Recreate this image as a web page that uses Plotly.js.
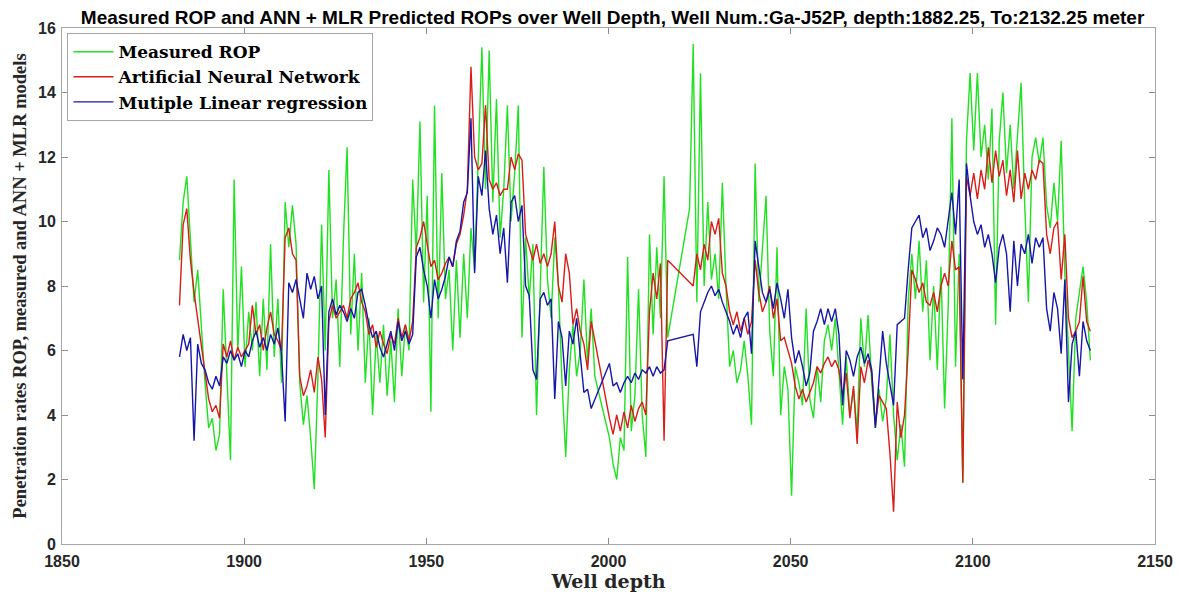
<!DOCTYPE html>
<html>
<head>
<meta charset="utf-8">
<script src="https://cdn.plot.ly/plotly-3.0.1.min.js"></script>
<style>
html,body{margin:0;padding:0;background:#fff;}
#chart{width:1178px;height:594px;}
</style>
</head>
<body>
<div id="chart"></div>
<script>
// Well depth (m)
const depth = [
1882.25,1883.25,1884.25,1885.25,1886.25,1887.25,1888.25,1889.25,1890.25,1891.25,
1892.25,1893.25,1894.25,1895.25,1896.25,1897.25,1898.25,1899.25,1900.25,1901.25,
1902.25,1903.25,1904.25,1905.25,1906.25,1907.25,1908.25,1909.25,1910.25,1911.25,
1912.25,1913.25,1914.25,1915.25,1916.25,1917.25,1918.25,1919.25,1920.25,1921.25,
1922.25,1923.25,1924.25,1925.25,1926.25,1927.25,1928.25,1929.25,1930.25,1931.25,
1932.25,1933.25,1934.25,1935.25,1936.25,1937.25,1938.25,1939.25,1940.25,1941.25,
1942.25,1943.25,1944.25,1945.25,1946.25,1947.25,1948.25,1949.25,1950.25,1951.25,
1952.25,1953.25,1954.25,1955.25,1956.25,1957.25,1958.25,1959.25,1960.25,1961.25,
1962.25,1963.25,1964.25,1965.25,1966.25,1967.25,1968.25,1969.25,1970.25,1971.25,
1972.25,1973.25,1974.25,1975.25,1976.25,1977.25,1978.25,1979.25,1980.25,1981.25,
1982.25,1983.25,1984.25,1985.25,1986.25,1987.25,1988.25,1989.25,1990.25,1991.25,
1992.25,1993.25,1994.25,1995.25,1996.25,1997.25,1998.25,1999.25,2000.25,2001.25,
2002.25,2003.25,2004.25,2005.25,2006.25,2007.25,2008.25,2009.25,2010.25,2011.25,
2012.25,2013.25,2014.25,2015.25,2016.25,2017.25,2018.25,2019.25,2020.25,2021.25,
2022.25,2023.25,2024.25,2025.25,2026.25,2027.25,2028.25,2029.25,2030.25,2031.25,
2032.25,2033.25,2034.25,2035.25,2036.25,2037.25,2038.25,2039.25,2040.25,2041.25,
2042.25,2043.25,2044.25,2045.25,2046.25,2047.25,2048.25,2049.25,2050.25,2051.25,
2052.25,2053.25,2054.25,2055.25,2056.25,2057.25,2058.25,2059.25,2060.25,2061.25,
2062.25,2063.25,2064.25,2065.25,2066.25,2067.25,2068.25,2069.25,2070.25,2071.25,
2072.25,2073.25,2074.25,2075.25,2076.25,2077.25,2078.25,2079.25,2080.25,2081.25,
2082.25,2083.25,2084.25,2085.25,2086.25,2087.25,2088.25,2089.25,2090.25,2091.25,
2092.25,2093.25,2094.25,2095.25,2096.25,2097.25,2098.25,2099.25,2100.25,2101.25,
2102.25,2103.25,2104.25,2105.25,2106.25,2107.25,2108.25,2109.25,2110.25,2111.25,
2112.25,2113.25,2114.25,2115.25,2116.25,2117.25,2118.25,2119.25,2120.25,2121.25,
2122.25,2123.25,2124.25,2125.25,2126.25,2127.25,2128.25,2129.25,2130.25,2131.25,
2132.25];

// Measured ROP
const measuredROP = [
8.8,10.6,11.4,9.6,7.5,8.5,6.6,5.0,3.6,3.9,
2.9,3.4,7.9,5.0,2.6,11.3,6.0,8.6,5.5,7.2,
6.0,7.5,5.2,7.6,5.4,9.3,5.8,7.6,5.0,10.6,
9.2,10.5,9.3,5.0,3.7,4.6,3.3,1.7,5.2,9.9,
6.0,11.6,7.0,8.2,5.5,9.5,12.3,6.5,9.0,6.0,
8.4,5.0,7.0,4.0,6.5,5.0,6.8,4.6,6.3,4.4,
7.3,5.2,6.8,6.0,11.3,9.0,13.1,7.5,10.8,4.1,
13.6,7.0,11.5,7.6,8.5,6.0,8.8,6.4,9.0,7.0,
9.8,8.5,12.0,15.4,11.0,15.3,10.6,13.8,9.5,11.0,
13.6,10.0,11.5,13.6,6.4,9.5,7.6,9.3,4.0,8.0,
11.7,8.2,7.0,9.5,8.0,5.0,2.7,5.4,6.8,5.2,
6.0,8.2,5.6,7.3,5.2,null,null,null,3.3,2.5,
2.0,3.3,2.9,8.9,3.5,4.6,7.9,4.0,2.7,9.6,
6.5,9.2,7.0,11.4,6.4,null,null,null,null,null,
10.4,15.5,7.5,14.6,8.0,10.6,8.2,9.0,7.6,11.2,
8.0,5.5,6.0,5.0,5.4,6.3,5.2,3.7,11.8,7.5,
9.0,10.8,6.6,5.2,9.2,4.0,5.5,4.8,1.5,5.5,
5.0,4.3,7.3,4.5,3.9,5.5,4.4,6.3,6.8,6.0,
7.0,5.3,3.7,5.8,4.0,4.8,3.5,7.0,5.5,7.1,
5.0,3.6,4.8,3.8,4.5,6.5,4.0,2.6,3.7,2.4,
7.5,9.0,7.6,9.4,7.2,8.8,5.7,8.0,5.4,8.6,
4.2,7.4,13.2,5.5,9.0,1.9,12.5,14.6,12.2,14.6,
12.0,13.0,11.3,13.5,6.8,12.5,14.0,11.5,13.0,11.0,
12.5,14.3,10.5,7.5,12.0,12.6,11.8,12.6,10.5,9.8,
11.2,10.0,12.5,8.4,6.0,3.5,7.0,7.8,8.6,7.5,
5.7];

// Artificial Neural Network prediction
const annROP = [
7.4,9.9,10.4,8.8,7.8,7.0,6.2,5.4,4.5,4.1,
4.3,3.9,6.2,5.8,6.3,5.7,6.1,5.8,6.0,6.2,
7.4,6.5,6.8,6.0,6.7,7.2,6.5,6.3,6.0,9.5,
9.8,9.0,8.8,5.2,4.6,4.9,5.4,4.7,5.8,5.1,
3.3,6.9,7.4,7.0,7.2,7.4,7.0,7.6,7.8,8.1,
7.5,7.2,6.5,6.8,6.1,6.6,6.2,5.9,6.5,6.2,
7.0,6.4,6.8,6.3,6.9,9.2,9.5,10.0,9.3,8.6,
8.8,8.2,8.4,8.7,8.9,8.6,9.3,9.6,10.2,11.0,
14.8,12.0,11.6,11.8,13.6,11.3,11.0,11.2,10.8,11.0,
11.0,12.0,11.6,12.1,11.9,9.6,9.2,8.8,9.3,8.7,
9.0,8.6,9.0,10.0,8.0,7.5,9.0,8.4,6.8,7.3,
6.6,6.2,5.4,6.9,null,null,null,null,3.9,3.4,
4.0,3.5,4.1,3.6,4.3,3.8,4.2,4.4,4.0,7.2,
8.4,7.6,8.7,3.2,8.8,null,null,null,null,null,
null,8.0,9.0,8.5,9.3,8.8,10.0,9.6,10.1,8.4,
8.0,7.2,6.8,7.2,6.6,7.0,6.5,6.9,8.8,7.8,
7.2,7.5,8.0,7.0,7.6,6.3,6.4,6.0,5.6,4.9,
4.5,4.8,4.4,4.7,5.0,5.5,5.3,5.6,5.8,5.5,
5.7,5.4,4.6,5.3,3.9,4.9,3.1,5.5,5.0,5.7,
5.3,3.7,4.6,4.4,4.2,2.8,1.0,4.4,3.3,4.0,
6.0,8.5,8.2,7.8,8.1,7.5,7.4,7.8,7.2,8.0,
8.4,8.0,9.4,8.5,8.6,1.9,11.4,10.8,11.5,10.7,
11.6,11.0,12.3,11.2,12.2,11.4,11.9,10.8,11.6,10.6,
12.2,10.7,11.5,11.0,11.6,11.3,11.9,11.8,9.6,9.0,
9.8,10.0,8.2,9.6,7.0,6.4,6.6,6.9,8.3,6.9,
6.6];

// Multiple Linear Regression prediction
const mlrROP = [
5.8,6.5,6.0,6.4,3.2,6.2,5.6,5.4,5.0,4.8,
5.2,4.9,5.8,5.6,6.0,5.7,5.9,5.5,6.0,5.8,
6.3,6.6,6.1,6.4,6.0,6.5,6.2,6.7,5.9,3.8,
8.1,7.8,8.2,7.6,7.0,8.4,7.9,8.3,7.6,8.0,
4.0,7.2,7.6,7.1,7.4,7.2,6.9,7.3,7.0,7.8,
7.9,7.4,6.8,6.4,6.6,6.1,5.8,6.2,6.6,6.0,
6.9,6.3,6.6,6.2,6.5,8.9,9.2,8.5,8.0,7.0,
8.2,7.6,7.9,8.3,8.9,8.6,9.4,9.7,10.6,10.9,
13.2,8.4,11.4,10.8,12.2,10.4,9.6,10.2,9.0,9.8,
8.1,10.6,10.8,10.0,10.5,8.0,7.7,5.4,5.1,7.6,
7.8,7.4,7.6,4.5,6.9,6.4,4.9,6.6,6.2,7.0,
5.9,4.7,4.8,4.2,null,null,null,null,5.6,4.9,
5.0,4.7,5.0,5.2,5.0,5.3,5.1,5.4,5.3,5.5,
5.2,5.5,5.3,5.4,6.3,null,null,null,null,null,
null,6.5,5.5,7.2,7.5,7.8,8.0,7.7,7.9,7.5,
7.2,6.9,6.5,6.8,6.4,7.0,7.2,5.9,9.4,8.6,
7.8,7.5,7.9,7.3,8.1,7.6,7.0,7.9,6.4,5.6,
6.0,5.5,4.9,5.3,6.6,6.9,7.3,6.8,7.3,6.9,
7.3,6.5,4.3,6.0,5.7,5.2,5.8,6.1,5.6,5.9,
5.4,3.6,5.0,6.6,5.6,4.9,4.3,6.8,6.9,7.0,
8.5,9.8,10.0,10.2,9.5,9.8,9.1,9.4,9.8,9.6,
9.2,10.0,10.9,9.6,11.3,5.1,11.8,10.8,10.0,9.6,
9.9,9.2,9.6,9.0,8.1,9.2,9.6,9.0,7.2,9.4,
8.0,9.3,9.0,9.6,8.7,9.5,9.2,9.5,7.3,6.6,
7.8,7.3,5.9,8.2,4.4,6.2,6.6,5.2,6.9,6.3,
6.0];

const seriesNames = ['Measured ROP', 'Artificial Neural Network', 'Mutiple Linear regression'];
const xTicks = [1850, 1900, 1950, 2000, 2050, 2100, 2150];
const yTicks = [0, 2, 4, 6, 8, 10, 12, 14, 16];

const colors = ['#22e022', '#d81e18', '#1616a8'];
const seriesData = [measuredROP, annROP, mlrROP];

const traces = seriesData.map((vals, i) => ({
  type: 'scatter',
  mode: 'lines',
  x: depth,
  y: vals,
  name: seriesNames[i],
  connectgaps: true,
  line: {color: colors[i], width: 1.4}
}));

const axisFont = {family: 'Liberation Sans, Arial, sans-serif', size: 16, color: '#262626', weight: 'bold'};
const serifBold = 'DejaVu Serif, serif';

const layout = {
  width: 1178,
  height: 594,
  paper_bgcolor: '#ffffff',
  plot_bgcolor: '#ffffff',
  margin: {l: 62, r: 23, t: 28, b: 50},
  showlegend: true,
  title: {
    text: 'Measured ROP and ANN + MLR Predicted ROPs over Well Depth, Well Num.:Ga-J52P, depth:1882.25, To:2132.25 meter',
    font: {family: 'Liberation Sans, Arial, sans-serif', size: 19, color: '#000', weight: 'bold'},
    x: 0.52, xanchor: 'center', y: 0.971, yanchor: 'middle'
  },
  xaxis: {
    range: [1850, 2150],
    tickvals: xTicks,
    ticks: 'inside', ticklen: 6, tickcolor: '#8c8c8c', tickwidth: 1,
    showline: true, linecolor: '#a6a6a6', linewidth: 1, mirror: 'ticks',
    showgrid: false, zeroline: false,
    tickfont: axisFont,
    ticklabelstandoff: 3,
    title: {text: 'Well depth', font: {family: serifBold, size: 19, color: '#262626', weight: 'bold'}, standoff: 2}
  },
  yaxis: {
    range: [0, 16],
    tickvals: yTicks,
    ticks: 'inside', ticklen: 6, tickcolor: '#8c8c8c', tickwidth: 1,
    showline: true, linecolor: '#a6a6a6', linewidth: 1, mirror: 'ticks',
    showgrid: false, zeroline: false,
    tickfont: axisFont,
    ticklabelstandoff: 2,
    title: {text: 'Penetration rates ROP, measured and ANN + MLR models', font: {family: 'Liberation Serif, Times New Roman, serif', size: 18.5, color: '#262626', weight: 'bold'}, standoff: 6}
  },
  legend: {
    x: 0.005, y: 0.99, xanchor: 'left', yanchor: 'top',
    bgcolor: '#ffffff', bordercolor: '#a6a6a6', borderwidth: 1,
    font: {family: serifBold, size: 17, color: '#000', weight: 'bold'},
    tracegroupgap: 0, itemwidth: 40
  }
};

Plotly.newPlot('chart', traces, layout, {displayModeBar: false, staticPlot: true});
</script>
</body>
</html>
